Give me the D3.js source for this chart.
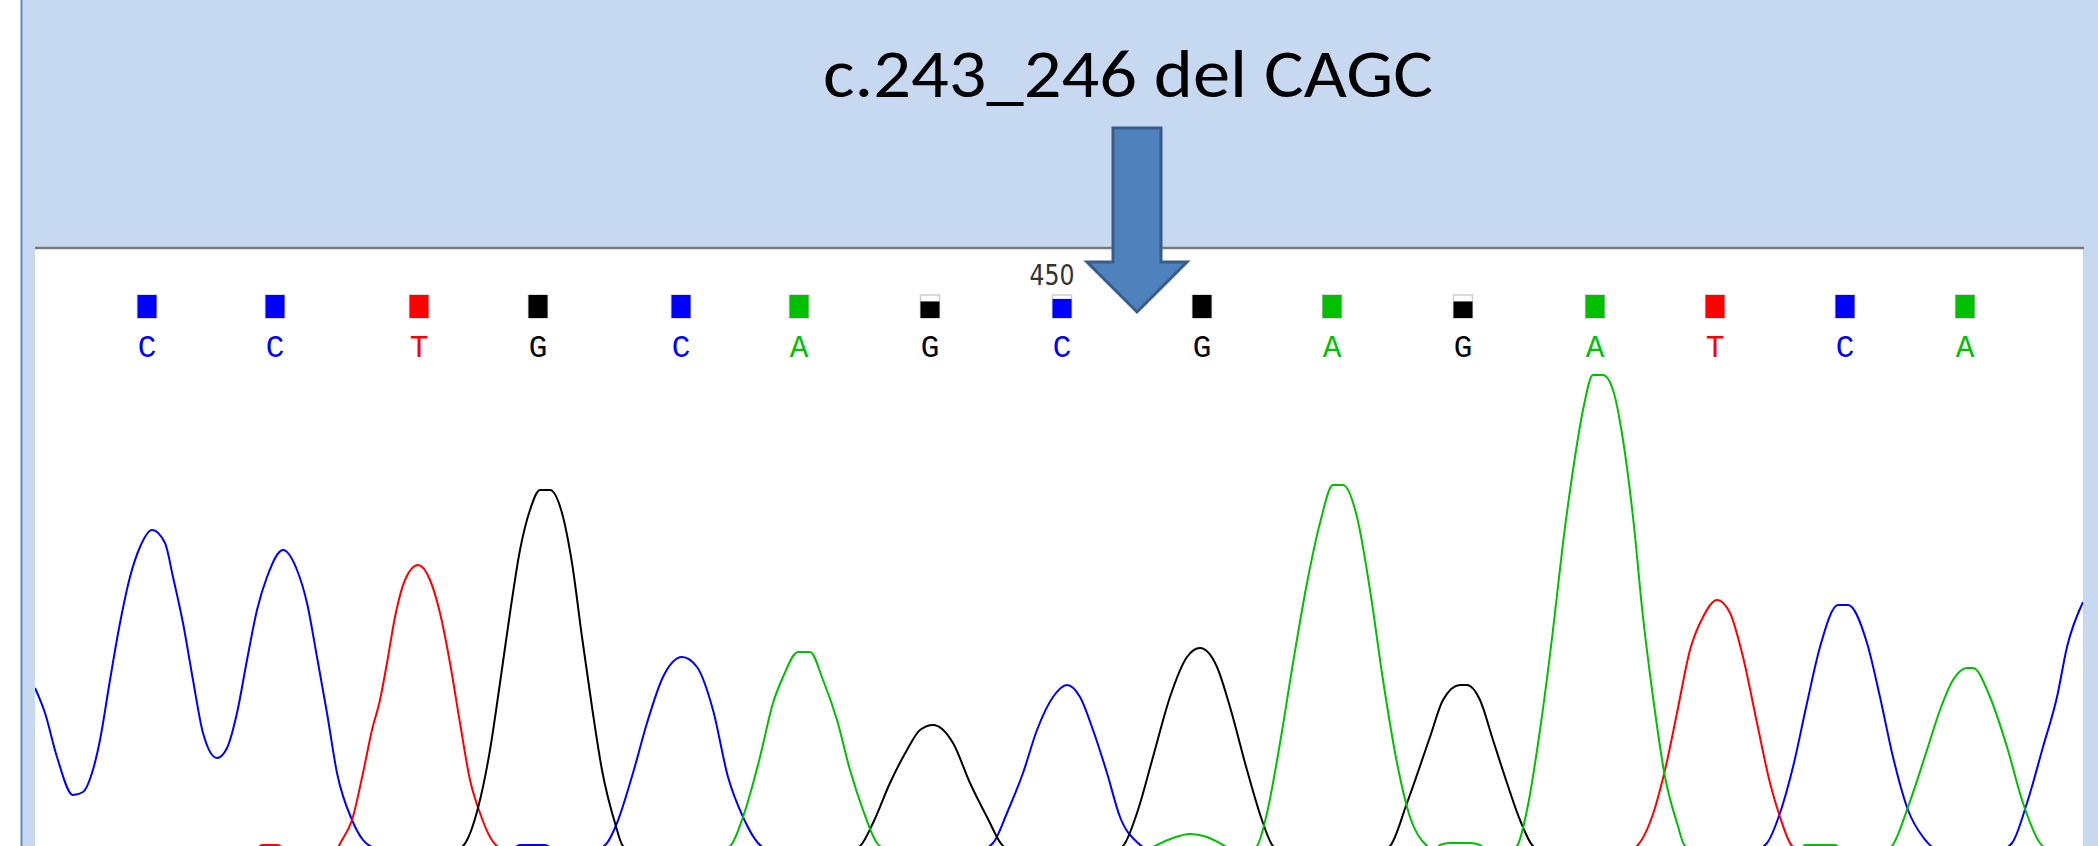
<!DOCTYPE html>
<html>
<head>
<meta charset="utf-8">
<script src="https://cdn.jsdelivr.net/npm/d3@7"></script>
<style>
  html, body { margin: 0; padding: 0; background: #fff; overflow: hidden; }
  svg { display: block; }
</style>
</head>
<body>
<svg id="chart" width="2098" height="846"></svg>
<script>
// base calls and their scan positions
var bases = ['C','C','T','G','C','A','G','C','G','A','G','A','T','C','A'];
var basePos = [112,240,384,503,646,764,895,1027,1167,1297,1428,1560,1680,1810,1930];
// part of the quality box left white on top (low quality calls)
var baseGap = [0,0,0,0,0,0,0.28,0.17,0,0,0.28,0,0,0,0];
var tickLabels = [{pos: 1017, text: '450'}];
var title = 'c.243_246 del CAGC';
var deletionPos = 1102;

// traces, [scan, signal]
var traceC = [[0,162],[10,137],[22,93],[38,55],[48,58],[57,77],[65,110],[75,170],[85,227],[95,273],[105,303],[117,320],[130,307],[138,273],[148,227],[158,170],[168,117],[182,92],[192,102],[202,137],[212,190],[222,240],[232,273],[248,300],[262,280],[272,247],[282,193],[292,137],[302,77],[317,30],[328,10],[340,2],[355,0],[475,0],[485,5],[510,5],[520,0],[560,0],[572,7],[582,27],[598,77],[612,127],[628,173],[647,193],[662,183],[678,140],[693,73],[708,33],[723,7],[735,0],[945,0],[958,7],[972,37],[988,77],[1002,120],[1018,153],[1032,165],[1045,153],[1058,120],[1072,77],[1085,33],[1103,7],[1115,0],[1720,0],[1732,7],[1745,37],[1758,83],[1772,147],[1785,203],[1803,245],[1813,245],[1832,207],[1845,153],[1858,93],[1873,40],[1888,13],[1900,2],[1965,0],[1977,7],[1992,47],[2008,103],[2022,153],[2032,203],[2048,248]];
var traceT = [[0,0],[220,0],[227,5],[243,5],[250,0],[300,0],[307,10],[317,30],[328,77],[337,120],[345,150],[352,187],[360,233],[370,270],[383,285],[395,270],[405,237],[415,187],[425,127],[435,70],[445,37],[455,13],[465,2],[475,0],[1595,0],[1602,4],[1617,33],[1630,80],[1642,137],[1655,200],[1668,233],[1682,250],[1695,237],[1708,193],[1722,127],[1735,67],[1745,33],[1757,4],[1765,0],[2048,0]];
var traceG = [[0,0],[420,0],[428,4],[443,42],[455,100],[465,167],[475,237],[485,300],[495,340],[505,360],[515,360],[527,337],[537,287],[547,213],[557,143],[567,80],[580,27],[588,4],[597,0],[815,0],[825,4],[838,27],[855,67],[872,100],[885,120],[898,125],[918,107],[935,67],[952,33],[968,4],[977,0],[1080,0],[1088,4],[1103,40],[1118,93],[1135,153],[1152,193],[1165,202],[1182,183],[1195,143],[1212,80],[1228,27],[1238,4],[1247,0],[1347,0],[1355,4],[1372,47],[1395,113],[1408,150],[1425,165],[1432,165],[1445,150],[1458,110],[1472,67],[1485,30],[1498,4],[1507,0],[2048,0]];
var traceA = [[0,0],[683,0],[695,4],[708,33],[725,93],[738,147],[748,173],[763,198],[775,198],[788,170],[802,130],[815,80],[828,40],[842,7],[853,0],[1113,0],[1120,4],[1138,12],[1155,16],[1172,13],[1188,5],[1197,0],[1215,0],[1222,4],[1232,37],[1245,107],[1258,187],[1272,267],[1285,327],[1298,365],[1308,365],[1322,333],[1335,260],[1348,170],[1362,87],[1375,33],[1392,4],[1400,0],[1405,5],[1415,7],[1435,7],[1445,5],[1450,0],[1475,0],[1482,4],[1492,40],[1505,120],[1518,220],[1528,307],[1538,380],[1548,440],[1558,475],[1568,475],[1578,460],[1588,410],[1598,333],[1608,233],[1618,153],[1630,73],[1642,27],[1650,4],[1660,0],[1765,0],[1770,5],[1800,5],[1807,0],[1850,0],[1857,4],[1873,43],[1892,100],[1905,140],[1918,170],[1932,182],[1938,182],[1955,153],[1972,103],[1988,47],[2005,7],[2015,0],[2048,0]];

var colors = {A: '#00c000', C: '#0000ff', G: '#000000', T: '#ff0000'};

var W = 2098, H = 846,
    panel = {left: 35, right: 2083, top: 249};

var svg = d3.select('#chart');

var x = d3.scaleLinear().domain([0, 2048]).range([panel.left, panel.right]);
var y = d3.scaleLinear().domain([0, 500]).range([850, 350]);

// slide background
svg.append('rect').attr('width', W).attr('height', H).attr('fill', '#fff');
svg.append('rect').attr('x', 22).attr('width', W - 22).attr('height', H).attr('fill', '#c6d9f0');
svg.append('line')
    .attr('x1', 21.5).attr('x2', 21.5).attr('y1', 0).attr('y2', H)
    .attr('stroke', '#5b87c5').attr('stroke-width', 2);

svg.append('text')
    .attr('x', 1128).attr('y', 97)
    .attr('text-anchor', 'middle')
    .attr('font-family', 'Carlito, Lato, sans-serif')
    .attr('font-size', 68)
    .attr('textLength', 610)
    .attr('lengthAdjust', 'spacingAndGlyphs')
    .attr('fill', '#000')
    .text(title);

// trace window
svg.append('rect')
    .attr('x', panel.left).attr('y', panel.top)
    .attr('width', panel.right - panel.left).attr('height', H - panel.top)
    .attr('fill', '#fff');
svg.append('line')
    .attr('x1', panel.right + 0.5).attr('x2', panel.right + 0.5)
    .attr('y1', panel.top).attr('y2', H)
    .attr('stroke', '#d6d6d6').attr('stroke-width', 1);
svg.append('line')
    .attr('x1', panel.left).attr('x2', panel.right + 1)
    .attr('y1', panel.top - 1).attr('y2', panel.top - 1)
    .attr('stroke', '#7a7a7a').attr('stroke-width', 2.5);

svg.append('clipPath').attr('id', 'clip')
  .append('rect')
    .attr('x', panel.left).attr('y', panel.top)
    .attr('width', panel.right - panel.left).attr('height', H - panel.top);

var line = d3.line()
    .x(function(d) { return x(d[0]); })
    .y(function(d) { return y(d[1]); })
    .curve(d3.curveMonotoneX);

var traces = [
  {base: 'C', values: traceC},
  {base: 'T', values: traceT},
  {base: 'G', values: traceG},
  {base: 'A', values: traceA}
];

svg.append('g').attr('clip-path', 'url(#clip)')
  .selectAll('path')
  .data(traces)
  .enter().append('path')
    .attr('d', function(d) { return line(d.values); })
    .attr('fill', 'none')
    .attr('stroke', function(d) { return colors[d.base]; })
    .attr('stroke-width', 2)
    .attr('stroke-linejoin', 'round');

// quality boxes and base letters
var calls = bases.map(function(b, i) { return {base: b, pos: basePos[i], gap: baseGap[i]}; });
var boxW = 19, boxH = 23, boxTop = 295;

var cell = svg.append('g').selectAll('g.call')
  .data(calls)
  .enter().append('g')
    .attr('class', 'call')
    .attr('transform', function(d) { return 'translate(' + x(d.pos) + ',0)'; });

cell.append('rect')
    .attr('x', -boxW / 2).attr('y', boxTop)
    .attr('width', boxW).attr('height', boxH)
    .attr('fill', '#fff')
    .attr('stroke', '#cfcfcf').attr('stroke-width', 1.5);
cell.append('rect')
    .attr('x', -boxW / 2).attr('y', function(d) { return boxTop + boxH * d.gap; })
    .attr('width', boxW).attr('height', function(d) { return boxH * (1 - d.gap); })
    .attr('fill', function(d) { return colors[d.base]; });

cell.append('text')
    .attr('y', 357)
    .attr('text-anchor', 'middle')
    .attr('font-family', '"Liberation Mono", "Courier New", monospace')
    .attr('font-size', 31)
    .attr('fill', function(d) { return colors[d.base]; })
    .text(function(d) { return d.base; });

svg.selectAll('text.tick')
  .data(tickLabels)
  .enter().append('text')
    .attr('class', 'tick')
    .attr('x', function(d) { return x(d.pos); })
    .attr('y', 285)
    .attr('text-anchor', 'middle')
    .attr('font-family', '"DejaVu Sans Condensed", "DejaVu Sans", sans-serif')
    .attr('font-size', 29)
    .attr('textLength', 45)
    .attr('lengthAdjust', 'spacingAndGlyphs')
    .attr('fill', '#333')
    .text(function(d) { return d.text; });

// arrow pointing at the deletion site
var tx = x(deletionPos), ty = 312;
var arrow = [[-24,-184],[24,-184],[24,-50],[50,-50],[0,0],[-50,-50],[-24,-50]];
svg.append('polygon')
    .attr('points', arrow.map(function(p) { return (tx + p[0]) + ',' + (ty + p[1]); }).join(' '))
    .attr('fill', '#4f81bd')
    .attr('stroke', '#385d8a')
    .attr('stroke-width', 3)
    .attr('stroke-linejoin', 'miter');
</script>
</body>
</html>
